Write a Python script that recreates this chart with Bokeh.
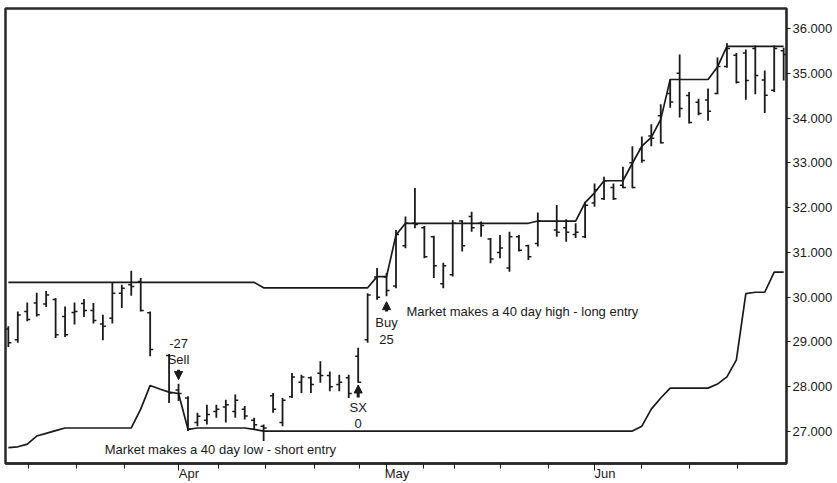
from bokeh.plotting import figure
from bokeh.models import (ColumnDataSource, FixedTicker, NumeralTickFormatter,
                          Range1d, Arrow, NormalHead, LinearAxis)
from bokeh.core.properties import value
from bokeh.embed import file_html
from bokeh.resources import INLINE

# ---------------- data ----------------
# bar index (trading-day slot); slots 16 and 57 have no bar
bar_idx = [0, 1, 2, 3, 4, 5, 6, 7, 8, 9, 10, 11, 12, 13, 14, 15,
           17, 18, 19, 20, 21, 22, 23, 24, 25, 26, 27, 28, 29, 30, 31, 32, 33, 34, 35, 36,
           37, 38, 39, 40, 41, 42, 43, 44, 45, 46, 47, 48, 49, 50, 51, 52, 53, 54, 55, 56,
           58, 59, 60, 61, 62, 63, 64, 65, 66, 67, 68, 69, 70, 71, 72, 73, 74, 75, 76, 77,
           78, 79, 80, 81, 82]
bar_high = [29.35, 29.68, 29.88, 30.10, 30.14, 29.98, 29.79, 29.88, 29.96, 29.87, 29.61, 30.33, 30.28, 30.59, 30.43, 29.68,
            28.73, 28.07, 27.79, 27.42, 27.60, 27.60, 27.71, 27.83, 27.57, 27.31, 27.16, 27.86, 27.75, 28.31, 28.27, 28.23, 28.57, 28.34, 28.27, 28.27,
            28.87, 30.09, 30.65, 30.54, 31.50, 31.80, 32.44, 31.59, 31.37, 30.77, 31.72, 31.72, 31.91, 31.69, 31.32, 31.39, 31.46, 31.39, 31.17, 31.89,
            32.06, 31.74, 31.65, 32.13, 32.54, 32.69, 32.54, 32.91, 33.37, 33.59, 33.86, 34.31, 34.86, 35.42, 34.58, 34.43, 34.66, 35.35, 35.67, 35.45,
            35.53, 35.62, 35.06, 35.62, 35.57]
bar_low = [28.89, 28.98, 29.46, 29.57, 29.78, 29.09, 29.11, 29.39, 29.56, 29.41, 29.04, 29.41, 29.76, 30.03, 29.68, 28.68,
           27.64, 27.68, 27.01, 27.12, 27.16, 27.31, 27.20, 27.31, 27.27, 27.05, 26.79, 27.42, 27.12, 27.75, 27.86, 27.86, 28.09, 27.90, 27.90, 27.75,
           28.09, 28.98, 29.94, 30.02, 30.20, 31.09, 31.54, 30.87, 30.43, 30.20, 30.46, 31.02, 31.46, 31.35, 30.76, 30.87, 30.57, 31.02, 30.83, 31.13,
           31.35, 31.24, 31.32, 31.32, 32.02, 32.17, 32.17, 32.43, 32.43, 33.00, 33.37, 33.43, 34.23, 34.01, 33.88, 34.06, 33.94, 34.53, 35.12, 34.77,
           34.41, 34.53, 34.11, 34.58, 34.84]
bar_open = [29.29, 29.05, 29.68, 29.87, 29.85, 29.95, 29.57, 29.66, 29.86, 29.70, 29.40, 29.53, 30.09, 30.28, 30.35, 29.65,
            28.70, 27.93, 27.75, 27.20, 27.25, 27.45, 27.55, 27.45, 27.50, 27.25, 27.12, 27.80, 27.20, 27.78, 28.10, 28.20, 28.30, 28.25, 28.05, 28.20,
            28.68, 29.05, 30.45, 30.45, 30.25, 31.15, 31.65, 31.55, 31.35, 30.30, 30.50, 31.70, 31.80, 31.65, 31.30, 31.00, 30.65, 31.35, 31.15, 31.20,
            31.50, 31.55, 31.40, 31.35, 32.10, 32.20, 32.45, 32.50, 33.00, 33.30, 33.60, 34.05, 34.55, 35.00, 34.50, 34.35, 34.40, 34.55, 35.15, 35.40,
            35.45, 35.55, 34.85, 34.62, 35.50]
bar_close = [28.98, 29.60, 29.50, 29.61, 30.05, 29.16, 29.16, 29.68, 29.70, 29.48, 29.35, 30.09, 30.20, 30.24, 29.70, 28.83,
             27.86, 27.85, 27.05, 27.34, 27.38, 27.50, 27.60, 27.70, 27.35, 27.15, 27.08, 27.50, 27.70, 28.22, 28.22, 28.05, 28.25, 28.00, 28.10, 27.85,
             28.10, 30.05, 30.00, 30.15, 31.40, 31.65, 31.62, 30.90, 30.70, 30.70, 31.65, 31.15, 31.55, 31.60, 30.85, 31.10, 31.35, 31.05, 30.90, 31.70,
             31.45, 31.45, 31.45, 32.05, 32.40, 32.60, 32.20, 32.45, 32.45, 33.05, 33.55, 33.45, 34.36, 34.21, 33.90, 34.10, 34.15, 35.15, 35.55, 34.80,
             34.84, 34.95, 34.51, 35.55, 35.42]

# 40-day channel, one value per slot 0..82
chan_idx = list(range(83))
chan_high = ([30.33] * 27 + [30.21] * 12 + [30.46, 30.46, 31.39] + [31.65] * 14 +
             [31.70] * 5 + [32.11, 32.33, 32.60, 32.60, 32.60, 32.99, 33.37, 33.57, 33.97] +
             [34.86] * 5 + [35.14] + [35.60] * 7)
chan_low = ([26.64, 26.66, 26.72, 26.90, 26.96, 27.02] + [27.08] * 8 +
            [27.50, 28.03, 27.95, 27.88, 27.85, 27.05] + [27.08] * 6 + [27.05] +
            [27.01] * 40 + [27.12, 27.50, 27.75] + [27.97] * 5 +
            [28.06, 28.22, 28.60, 30.08, 30.11, 30.11, 30.56, 30.56])

# axis ticks
price_ticks = [27, 28, 29, 30, 31, 32, 33, 34, 35, 36]
month_ticks = [18, 40, 62]
month_labels = ["Apr", "May", "Jun"]
week_ticks = [2.1, 7.2, 12.3, 22.2, 27.2, 32.4, 37.1, 43.9, 47.2, 52.1, 57.1, 67.0, 72.0, 77.1]

# trade signals
signal_idx = [18, 37, 40]
signal_names = ["Sell", "SX", "Buy"]
signal_qty = ["-27", "0", "25"]
signal_name_y = [28.61, 27.54, 29.43]
signal_qty_y = [28.96, 27.18, 29.05]
arrow_tail = [28.38, 27.76, 29.68]
arrow_head = [28.16, 28.04, 29.90]

notes = ["Market makes a 40 day low - short entry", "Market makes a 40 day high - long entry"]
note_x = [10.2, 42.1]
note_y = [26.60, 29.68]

# ---------------- figure ----------------
INK = "#1a1a1a"
FONT = "Liberation Sans"

p = figure(width=837, height=483, x_range=Range1d(-0.3, 82.3), y_range=Range1d(26.287, 36.445),
           y_axis_location="right", toolbar_location=None, output_backend="svg",
           min_border_left=5, min_border_top=8, min_border_right=51, min_border_bottom=0)
p.xgrid.visible = False
p.ygrid.visible = False
p.outline_line_color = "#2a2a2a"
p.outline_line_width = 2.5
p.background_fill_color = "white"
p.border_fill_color = "white"

# right price axis
ya = p.yaxis[0]
ya.ticker = FixedTicker(ticks=price_ticks)
ya.formatter = NumeralTickFormatter(format="0.000")
ya.major_tick_out = 4
ya.major_tick_in = 0
ya.minor_tick_line_color = None
ya.axis_line_color = "#2a2a2a"
ya.axis_line_width = 1.5
ya.major_tick_line_color = INK
ya.major_label_standoff = 2
ya.major_label_text_font = FONT
ya.major_label_text_font_size = "13px"
ya.major_label_text_color = INK

# bottom date axis: tick marks
xa = p.xaxis[0]
xa.ticker = FixedTicker(ticks=month_ticks, minor_ticks=week_ticks)
xa.major_label_overrides = {t: "" for t in month_ticks}
xa.major_label_text_font_size = "0px"
xa.major_label_standoff = 0
xa.major_tick_out = 7
xa.major_tick_in = 0
xa.minor_tick_out = 5
xa.minor_tick_in = 0
xa.axis_line_color = "#2a2a2a"
xa.axis_line_width = 2.5
xa.major_tick_line_color = INK
xa.minor_tick_line_color = INK

# bottom date axis: month labels, starting at their tick
label_pos = [t + 1.1 for t in month_ticks]
xl = LinearAxis(ticker=FixedTicker(ticks=label_pos, minor_ticks=[]),
                major_label_overrides={t: l for t, l in zip(label_pos, month_labels)})
xl.axis_line_color = None
xl.major_tick_line_color = None
xl.minor_tick_line_color = None
xl.major_tick_out = 0
xl.major_tick_in = 0
xl.major_label_standoff = -5
xl.major_label_text_font = FONT
xl.major_label_text_font_size = "13px"
xl.major_label_text_color = INK
p.add_layout(xl, "below")

# channels
ch = ColumnDataSource(dict(x=chan_idx, hi=chan_high, lo=chan_low))
p.line("x", "hi", source=ch, line_color=INK, line_width=1.7)
p.line("x", "lo", source=ch, line_color=INK, line_width=1.7)

# OHLC bars
bars = ColumnDataSource(dict(x=bar_idx, h=bar_high, l=bar_low, o=bar_open, c=bar_close,
                             xl=[i - 0.32 for i in bar_idx], xr=[i + 0.32 for i in bar_idx]))
p.segment(x0="x", y0="l", x1="x", y1="h", source=bars, line_color=INK, line_width=1.8)
p.segment(x0="xl", y0="o", x1="x", y1="o", source=bars, line_color=INK, line_width=1.5)
p.segment(x0="x", y0="c", x1="xr", y1="c", source=bars, line_color=INK, line_width=1.5)

# signals
sig = ColumnDataSource(dict(x=signal_idx, name=signal_names, qty=signal_qty,
                            ny=signal_name_y, qy=signal_qty_y))
p.text(x="x", y="ny", text="name", source=sig, text_align="center", text_baseline="middle",
       text_font=value(FONT), text_font_size="13px", text_color=INK)
p.text(x="x", y="qy", text="qty", source=sig, text_align="center", text_baseline="middle",
       text_font=value(FONT), text_font_size="13px", text_color=INK)
for xi, t0, t1 in zip(signal_idx, arrow_tail, arrow_head):
    p.add_layout(Arrow(x_start=xi, y_start=t0, x_end=xi, y_end=t1, line_color=INK, line_width=3,
                       end=NormalHead(size=8, fill_color=INK, line_color=INK, line_width=1)))

# notes
nt = ColumnDataSource(dict(x=note_x, y=note_y, t=notes))
p.text(x="x", y="y", text="t", source=nt, text_align="left", text_baseline="middle",
       text_font=value(FONT), text_font_size="13px", text_color=INK)

open("out.html", "w").write(file_html(p, INLINE))
